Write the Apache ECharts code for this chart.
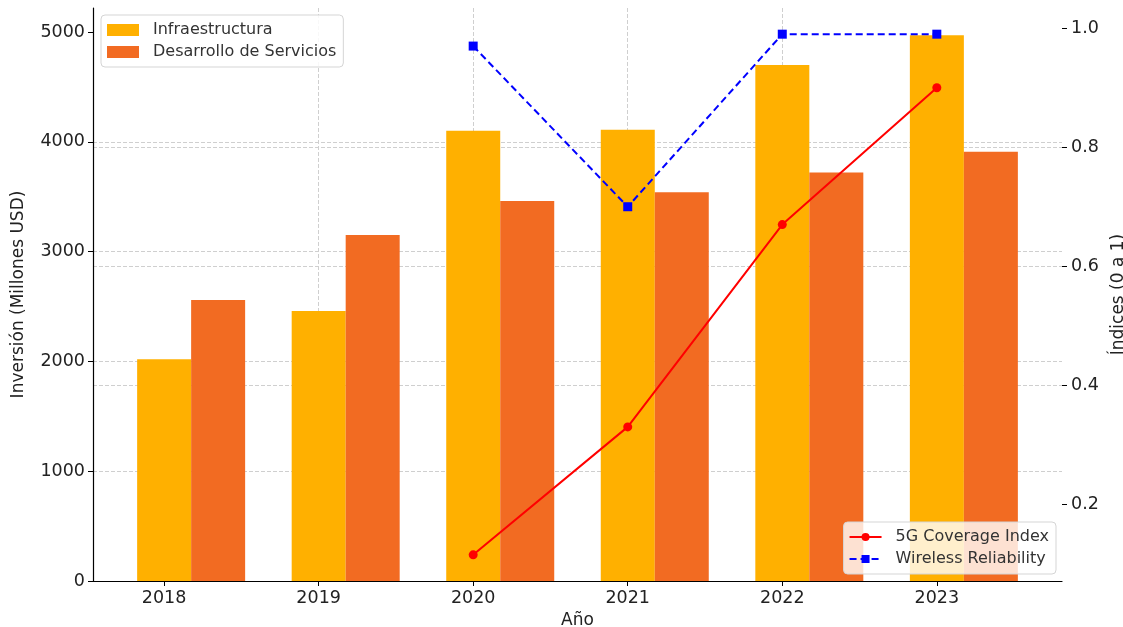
<!DOCTYPE html>
<html>
<head>
<meta charset="utf-8">
<script src="https://cdn.jsdelivr.net/npm/echarts@6/dist/echarts.min.js"></script>
<style>html,body{margin:0;padding:0;background:#fff}#c{width:1123px;height:627px}</style>
</head>
<body>
<div id="c"></div>
<script>
const years = ['2018', '2019', '2020', '2021', '2022', '2023'];
const infraestructura = [2020, 2460, 4100, 4110, 4700, 4970];
const desarrollo = [2560, 3150, 3460, 3540, 3720, 3910];
const coverage5G = [null, null, 0.115, 0.33, 0.67, 0.90];
const wireless = [null, null, 0.97, 0.70, 0.99, 0.99];
const leftTicks = [0, 1000, 2000, 3000, 4000, 5000];
const rightTicks = [0.2, 0.4, 0.6, 0.8, 1.0];

const FONT = 'DejaVu Sans';
const idx = years.map((y, i) => i);
const BAR_OFF = 0.175;
const barData = arr => arr.map((v, i) => [i + BAR_OFF, v]);
const lineData = arr => arr.map((v, i) => [i, v]).filter(d => d[1] !== null);

const gridLine = { show: true, lineStyle: { color: '#cfcfcf', type: [4, 2], width: 1 }, showMinLine: false, showMaxLine: false };

const chart = echarts.init(document.getElementById('c'), null, { renderer: 'canvas' });
chart.setOption({
  animation: false,
  backgroundColor: '#fff',
  textStyle: { fontFamily: FONT },
  grid: { left: 93, right: 61, top: 8, bottom: 46, containLabel: false, outerBoundsMode: 'none' },
  legend: [
    {
      data: ['Infraestructura', 'Desarrollo de Servicios'],
      orient: 'vertical', left: 101, top: 15,
      itemWidth: 32, itemHeight: 12, itemGap: 6,
      padding: [7, 7, 7, 6],
      backgroundColor: 'rgba(255,255,255,0.85)', borderColor: '#d5d5d5', borderWidth: 1, borderRadius: 4,
      textStyle: { fontSize: 16, color: '#333', fontFamily: FONT, padding: [0, 0, 0, 9] },
      icon: 'rect'
    },
    {
      data: ['5G Coverage Index', 'Wireless Reliability'],
      orient: 'vertical', right: 67, bottom: 53,
      itemWidth: 32, itemHeight: 10, itemGap: 6,
      padding: [7, 7, 7, 5],
      backgroundColor: 'rgba(255,255,255,0.8)', borderColor: '#d5d5d5', borderWidth: 1, borderRadius: 4,
      textStyle: { fontSize: 16, color: '#333', fontFamily: FONT, padding: [0, 0, 0, 9] }
    }
  ],
  xAxis: {
    type: 'value', min: -0.46, max: 5.81, splitNumber: 6,
    name: 'Año', nameLocation: 'middle', nameGap: 30,
    nameTextStyle: { fontSize: 17, color: '#222', fontFamily: FONT },
    axisLine: { show: true, onZero: false, lineStyle: { color: '#000', width: 1.2 } },
    axisTick: { show: true, length: 5, customValues: idx, lineStyle: { color: '#000' } },
    axisLabel: { customValues: idx, fontSize: 17.5, color: '#222', margin: 8, fontFamily: FONT,
      formatter: v => years[Math.round(v)] },
    splitLine: gridLine
  },
  yAxis: [
    {
      type: 'value', min: 0, max: 5218.5, interval: 1000, position: 'left',
      name: 'Inversión (Millones USD)', nameLocation: 'middle', nameGap: 66, nameRotate: 90,
      nameTextStyle: { fontSize: 17, color: '#222', fontFamily: FONT },
      axisLine: { show: true, onZero: false, lineStyle: { color: '#000', width: 1.2 } },
      axisTick: { show: true, length: 5, customValues: leftTicks, lineStyle: { color: '#000' } },
      axisLabel: { customValues: leftTicks, fontSize: 17.5, color: '#222', margin: 8, fontFamily: FONT,
        formatter: v => String(v) },
      splitLine: gridLine
    },
    {
      type: 'value', min: 0.071, max: 1.034, splitNumber: 5, position: 'right',
      name: 'Índices (0 a 1)', nameLocation: 'middle', nameGap: 42, nameRotate: 90,
      nameTextStyle: { fontSize: 17, color: '#222', fontFamily: FONT },
      axisLine: { show: false, onZero: false },
      axisTick: { show: true, length: 5, customValues: rightTicks, lineStyle: { color: '#000' } },
      axisLabel: { customValues: rightTicks, fontSize: 17.5, color: '#222', margin: 9, fontFamily: FONT,
        formatter: v => v.toFixed(1) },
      splitLine: gridLine
    }
  ],
  series: [
    {
      name: 'Infraestructura', type: 'bar', yAxisIndex: 0,
      data: barData(infraestructura), barWidth: 54, barGap: '0%',
      itemStyle: { color: '#FFB000' }
    },
    {
      name: 'Desarrollo de Servicios', type: 'bar', yAxisIndex: 0,
      data: barData(desarrollo), barWidth: 54, barGap: '0%',
      itemStyle: { color: '#F26B22' }
    },
    {
      name: '5G Coverage Index', type: 'line', yAxisIndex: 1,
      data: lineData(coverage5G),
      symbol: 'circle', symbolSize: 9,
      lineStyle: { color: '#FF0000', width: 2 },
      itemStyle: { color: '#FF0000' }, z: 5
    },
    {
      name: 'Wireless Reliability', type: 'line', yAxisIndex: 1,
      data: lineData(wireless),
      symbol: 'rect', symbolSize: 9,
      lineStyle: { color: '#0000FF', width: 2, type: [7, 4] },
      itemStyle: { color: '#0000FF' }, z: 5
    }
  ]
});
</script>
</body>
</html>
